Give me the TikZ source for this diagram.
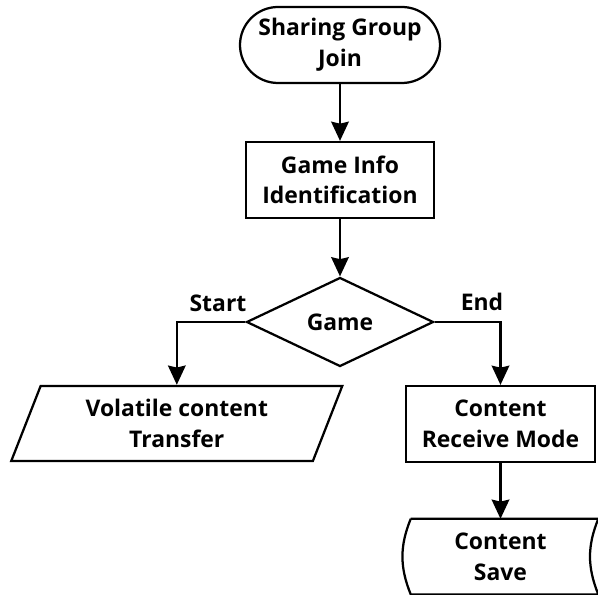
\documentclass[tikz,border=0pt]{standalone}
\usepackage{fontspec}
\setmainfont{Open Sans}
\usepackage{tikz}
\usetikzlibrary{arrows.meta,positioning,shapes.geometric}

\begin{document}
\begin{tikzpicture}[
  every node/.style={font=\fontsize{16.3}{21.8}\selectfont\bfseries},
  term/.style={draw,line width=1.6pt,rounded corners=0.95cm,minimum width=5cm,minimum height=1.9cm,align=center},
  proc/.style={draw,line width=1.6pt,minimum width=4.7cm,minimum height=1.9cm,align=center},
  dec/.style={draw,diamond,line width=1.6pt,minimum width=4.675cm,minimum height=2.225cm,inner sep=0pt},
  io/.style={draw,trapezium,trapezium left angle=63,trapezium right angle=117,trapezium stretches body,line width=1.6pt,minimum width=8.275cm,minimum height=1.875cm,align=center},
  flow/.style={-{Stealth[length=0.48cm,width=0.44cm,inset=0.05cm]},line width=1.6pt}]
 \useasboundingbox (-8.5,1.125) rectangle (6.45,-13.75);
 \node[term] (join) at (0,0) {Sharing Group\\Join};
 \node[proc] (info) at (0,-3.375) {Game Info\\Identification};
 \node[dec]  (game) at (0,-6.925) {Game};
 \node[io]   (vol)  at (-4.08,-9.46) {Volatile content\\Transfer};
 \node[proc,minimum width=4.725cm] (recv) at (4.0125,-9.475) {Content\\Receive Mode};
 \node[minimum width=4.875cm,minimum height=1.875cm,align=center] (save) at (4.0125,-12.79) {Content\\Save};
 \draw[line width=1.6pt] ([xshift=0.2cm]save.north west) -- (save.north east)
   to[bend right=22] (save.south east) -- ([xshift=0.2cm]save.south west)
   to[bend left=22] ([xshift=0.2cm]save.north west);
 \foreach \a/\b in {join/info,info/game,recv/save} \draw[flow] (\a) -- (\b);
 \draw[flow] (game.west) -| (vol.north);
 \draw[flow] (game.east) -| (recv.north);
 \node (st) at (-3.05,-6.45) {Start};
 \node (en) at (3.55,-6.425) {End};
\end{tikzpicture}
\end{document}
